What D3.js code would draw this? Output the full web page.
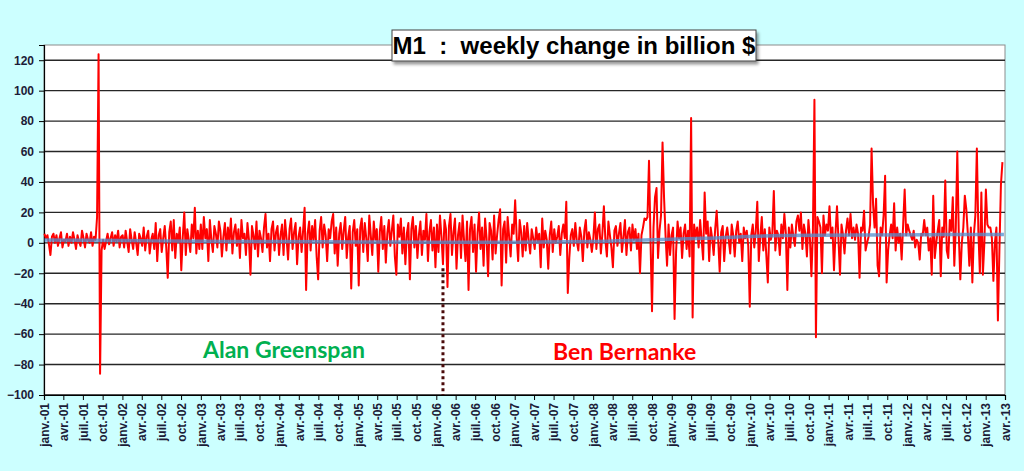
<!DOCTYPE html>
<html>
<head>
<meta charset="utf-8">
<script src="https://cdn.jsdelivr.net/npm/d3@7"></script>
<style>
  html, body { margin: 0; padding: 0; background: #ccffff; }
  svg { display: block; }
</style>
</head>
<body>
<div id="chart"></div>
<script>
// weekly change of M1, billion $, one array per year (first week: 3 Jan 2001)
const w2001 = [6, 3, 5, -1, -8, 4, 6, 0, 5, -2,
               3, 7, -3, 2, 1, 6, -2, 4, 0, 7,
               2, -4, 5, 1, -2, 8, 3, -3, 6, 2,
               0, 7, -2, 4, 2, 17, 124, -86, -5, 2,
               -4, 1, 6, -1, 3, 7, -2, 5, 1, 8,
               -3, 4];
const w2002 = [5, -3, 8, 1, -6, 9, 2, -4, 7, 0,
               -8, 6, 3, -2, 10, -5, 4, 8, -7, 2,
               6, -4, 13, -12, 5, 9, -6, 3, 11, -3,
               -23, 7, 14, -5, 15, -10, 6, 1, 10, -18,
               4, 20, -8, 9, 2, -6, 12, 3, 23, -7,
               8, -4];
const w2003 = [12, -4, 17, 3, 9, -12, 15, 2, -6, 11,
               6, -3, 14, 8, -9, 4, 13, -5, 10, 1,
               16, -7, 7, 12, -2, 9, -10, 15, 3, 6,
               -8, 13, 2, -21, 11, 5, -4, 14, -9, 8,
               3, -6, 10, 19, -3, 6, -12, 9, 14, -5,
               7, 11, -8];
const w2004 = [5, 12, -8, 15, 3, -11, 9, 16, -4, 7,
               13, -14, 4, 10, -6, 8, 23, -31, 6, 14,
               -5, 11, 2, 15, -9, -24, 8, 17, -3, 12,
               5, -12, 9, 3, 14, 19, -7, 10, -15, 6,
               13, -4, 8, 17, -10, 4, 11, -30, 7, 15,
               -2, 9];
const w2005 = [-28, 10, 16, -6, 13, 3, -12, 18, 5, -8,
               14, 2, 9, -19, 7, 17, -4, 11, -13, 6,
               15, -2, 8, 18, -9, -21, 12, 4, 16, -7,
               10, -14, 6, 13, -24, 9, 17, -3, 11, -10,
               5, 14, -8, 8, 2, 19, -12, 7, 15, -5,
               10, -16];
const w2006 = [12, -6, 18, 4, -14, 15, 9, -29, 11, 19,
               -8, 7, 16, -17, 5, 13, -10, 18, 2, -12,
               14, -31, 9, 17, -6, 12, -19, 6, 20, -4,
               10, -15, 16, 3, -22, 13, 8, -11, 18, -7,
               5, 15, 22, -28, 9, 14, -13, 17, 4, -9,
               12, 6];
const w2007 = [28, 4, -12, 15, 7, -9, 11, -5, 13, 2,
               -7, 9, 3, -4, 10, 1, 6, -16, 16, -3,
               8, 2, -17, 5, 14, -6, 9, 0, 4, 11,
               -8, 6, 12, 3, 27, -33, -10, 5, 9, -2,
               13, 1, -5, 10, 4, -12, 8, 15, -3, 7,
               2, -6];
const w2008 = [3, 20, -4, 9, 12, -7, 6, 24, 2, -9,
               14, 5, -3, -16, 8, 11, -2, 6, 13, -6,
               4, 15, -8, 7, 10, -5, 12, 2, 9, -4,
               6, -20, 5, 10, 16, 15, 17, 54, 2, -45,
               10, 30, 36, -10, 8, 18, 66, 30, 5, -15,
               12, -8];
const w2009 = [5, 10, -50, -6, 14, 3, 10, -10, 6, 12,
               -4, 8, -9, 82, -49, 12, 4, 10, -3, 15,
               2, -11, 33, 6, 14, -12, 10, 3, -8, 9,
               21, 2, -19, 7, 11, -12, 4, 10, 2, -7,
               12, 5, -9, 8, 14, 0, 6, -12, 10, 3,
               8, -2];
const w2010 = [-42, 5, 12, -3, 8, 27, -12, 4, 17, -5,
               9, -8, -26, 10, 2, 6, 34, -5, 8, 5,
               -8, 12, 3, 19, 6, -31, 10, -3, 12, 4,
               -2, 14, 18, 8, 20, -4, 12, 6, -9, 15,
               3, -22, 8, 94, -62, 17, 14, 10, -20, 18,
               5, 12];
const w2011 = [8, 24, 3, 10, -18, 6, 24, 2, -21, 12,
               5, -7, 8, 16, 5, 19, 3, 10, 2, 12,
               6, -23, 10, 8, 21, -5, 0, 4, 12, 62,
               25, 10, 29, -15, -22, 10, 5, 18, 44, -26,
               -5, 5, 12, 3, 26, -5, 10, 0, 6, -11,
               12, 35];
const w2012 = [5, 12, 8, 5, 2, 8, -3, 2, 0, -11,
               6, 5, 15, 5, 10, -5, 3, -21, 31, -10,
               0, 8, 15, -22, 10, 4, 41, -5, -10, 15,
               8, 30, -15, 10, 60, 5, -24, 0, 10, 31,
               22, 6, -15, 10, -26, 5, 18, 62, 8, -20,
               33, -21];
const w2013 = [0, 35, 12, 10, 10, 3, -25, 0, 10, -51,
               -5, 38, 53];

// blue trend line
const trendDates = ["2001-01-03", "2002-01-01", "2003-01-01", "2004-01-01", "2005-01-01",
                    "2006-01-01", "2007-01-01", "2008-01-01", "2008-09-01", "2009-06-01",
                    "2010-06-01", "2011-06-01", "2012-06-01", "2013-03-27"];
const trendValues = [1.8, 1.5, 1.0, 0.8, 0.6, 0.4, 0.4, 0.8, 1.8, 3.0, 4.8, 5.2, 5.4, 5.5];

const quarterNames = ["janv.", "avr.", "juil.", "oct."];
const yTicks = [-100, -80, -60, -40, -20, 0, 20, 40, 60, 80, 100, 120];

const m1Change = [].concat(w2001, w2002, w2003, w2004, w2005, w2006, w2007,
                           w2008, w2009, w2010, w2011, w2012, w2013);
const firstWeek = new Date(2001, 0, 3);
const series = m1Change.map((v, i) => ({date: d3.timeDay.offset(firstWeek, 7 * i), value: v}));

const W = 1024, H = 471;
const margin = {top: 45, right: 19, bottom: 76, left: 44};
const width = W - margin.left - margin.right,
      height = H - margin.top - margin.bottom;

const svg = d3.select("#chart").append("svg")
    .attr("width", W).attr("height", H);

svg.append("rect").attr("width", W).attr("height", H).attr("fill", "#ccffff");

const g = svg.append("g").attr("transform", `translate(${margin.left},${margin.top})`);

const x = d3.scaleTime()
    .domain([new Date(2001, 0, 1), new Date(2013, 3, 1)])
    .range([0, width]);
const y = d3.scaleLinear()
    .domain([-100, 130])
    .range([height, 0]);

// plot area
g.append("rect")
    .attr("width", width).attr("height", height)
    .attr("fill", "#ffffff").attr("stroke", "#8c8c8c").attr("stroke-width", 1);

// gridlines
g.append("g")
    .selectAll("line")
    .data(yTicks)
    .join("line")
      .attr("x1", 0).attr("x2", width)
      .attr("y1", d => y(d)).attr("y2", d => y(d))
      .attr("stroke", "#262626").attr("stroke-width", 1.4);

// Y axis
const yAxis = g.append("g")
    .call(d3.axisLeft(y).tickValues(yTicks).tickSize(5).tickPadding(5));
yAxis.select(".domain").attr("stroke", "#000").attr("stroke-width", 1.2);
yAxis.selectAll(".tick line").attr("stroke", "#000");
yAxis.selectAll("text")
    .attr("font-family", "'Liberation Sans', Arial, sans-serif")
    .attr("font-size", 12).attr("font-weight", "bold").attr("fill", "#1c1c38");

// X axis, quarterly
const qTicks = d3.timeMonth.every(3).range(new Date(2001, 0, 1), new Date(2013, 3, 2));
const xAxis = g.append("g")
    .attr("transform", `translate(0,${height})`)
    .call(d3.axisBottom(x).tickValues(qTicks).tickSize(5)
        .tickFormat(d => quarterNames[d.getMonth() / 3] + "-" + d3.timeFormat("%y")(d)));
xAxis.select(".domain").attr("stroke", "#000").attr("stroke-width", 1.2);
xAxis.selectAll(".tick line").attr("stroke", "#000");
xAxis.selectAll("text")
    .attr("font-family", "'Liberation Sans', Arial, sans-serif")
    .attr("font-size", 12).attr("font-weight", "bold").attr("fill", "#1c1c38")
    .attr("text-anchor", "end")
    .attr("transform", "rotate(-90)")
    .attr("x", -8).attr("y", 0).attr("dy", "0.35em");

// Greenspan / Bernanke split
const handover = new Date(2006, 1, 1);
g.append("line")
    .attr("x1", x(handover)).attr("x2", x(handover))
    .attr("y1", y(-20) - 5).attr("y2", height)
    .attr("stroke", "#4a0a0a").attr("stroke-width", 3)
    .attr("stroke-dasharray", "3,3");

// red weekly change
const line = d3.line().x(d => x(d.date)).y(d => y(d.value));
g.append("path")
    .datum(series)
    .attr("fill", "none")
    .attr("stroke", "#ff0000")
    .attr("stroke-width", 2)
    .attr("stroke-linejoin", "round")
    .attr("d", line);

// blue trend
const trend = trendDates.map((d, i) => ({date: new Date(d), value: trendValues[i]}));
g.append("path")
    .datum(trend)
    .attr("fill", "none")
    .attr("stroke", "#4f8fd0")
    .attr("stroke-opacity", 0.75)
    .attr("stroke-width", 3.5)
    .attr("d", d3.line().curve(d3.curveMonotoneX).x(d => x(d.date)).y(d => y(d.value)));

// names
g.append("text")
    .attr("x", 203 - margin.left).attr("y", 358 - margin.top)
    .attr("font-family", "Lato, 'Open Sans', sans-serif").attr("font-weight", "bold")
    .attr("font-size", 23).attr("fill", "#00b050")
    .text("Alan Greenspan");
g.append("text")
    .attr("x", 553 - margin.left).attr("y", 360 - margin.top)
    .attr("font-family", "Lato, 'Open Sans', sans-serif").attr("font-weight", "bold")
    .attr("font-size", 23).attr("fill", "#ff0000")
    .text("Ben Bernanke");

// title box
const defs = svg.append("defs");
const f = defs.append("filter").attr("id", "shadow")
    .attr("x", "-10%").attr("y", "-30%").attr("width", "120%").attr("height", "170%");
f.append("feDropShadow").attr("dx", 2).attr("dy", 3).attr("stdDeviation", 1.5)
    .attr("flood-color", "#000").attr("flood-opacity", 0.4);

svg.append("rect")
    .attr("x", 392).attr("y", 30).attr("width", 364).attr("height", 31)
    .attr("fill", "#ffffff").attr("stroke", "#404040").attr("stroke-width", 1)
    .attr("filter", "url(#shadow)");
svg.append("text")
    .attr("x", 574).attr("y", 53.5)
    .attr("text-anchor", "middle")
    .attr("font-family", "'Liberation Sans', Arial, sans-serif")
    .attr("font-weight", "bold").attr("font-size", 24).attr("fill", "#000")
    .attr("xml:space", "preserve")
    .text("M1  :  weekly change in billion $");
</script>
</body>
</html>
